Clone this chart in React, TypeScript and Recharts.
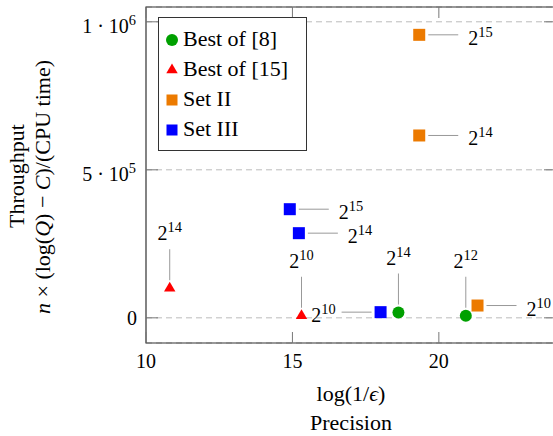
import { Legend, ReferenceArea, Scatter, ScatterChart, XAxis, YAxis, CartesianGrid } from "recharts";

// Throughput vs precision, four marker groups, each point tagged with its 2^k size

const best8X = [18.62, 20.92];
const best8Y = [18000, 7000];
const best8Exp = [14, 12];

const best15X = [10.81, 15.31];
const best15Y = [100000, 7000];
const best15Exp = [14, 10];

const set2X = [19.33, 19.33, 21.32];
const set2Y = [956000, 616000, 41600];
const set2Exp = [15, 14, 10];

const set3X = [14.91, 15.22, 18.01];
const set3Y = [367000, 286000, 19200];
const set3Exp = [15, 14, 10];

const xTicks = [10, 15, 20];
const yTicks = [0, 500000, 1000000];

// which side the pin + label sits on, per point
const best8Side = ["above", "above"];
const best15Side = ["above", "above"];
const set2Side = ["right", "right", "right"];
const set3Side = ["right", "right", "left"];

const CHART_W = 556;
const CHART_H = 436;
const Y_AXIS_W = 146;
const MARGIN = { top: 7, right: 0, bottom: 63, left: 0 };
const PLOT_TOP = MARGIN.top;
const PLOT_BOTTOM = CHART_H - MARGIN.bottom - 30;

const FONT = "Liberation Serif";
const GREEN = "#00a000";
const RED = "#ff0000";
const ORANGE = "#ec7a00";
const BLUE = "#0000ff";
const PIN = "#999";

type Side = "above" | "right" | "left";

function rows(xs: number[], ys: number[], exps: number[], sides: string[]) {
  return xs.map((x, i) => ({ x, y: ys[i], exp: exps[i], side: sides[i] as Side }));
}

function Pow({ x, y, base, exp, anchor, size = 20 }: { x: number; y: number; base: string; exp: number | string; anchor: "start" | "middle" | "end"; size?: number }) {
  return (
    <text x={x} y={y} textAnchor={anchor} fontFamily={FONT} fontSize={size} fill="#000">
      <tspan fontFamily={FONT}>{base}</tspan>
      <tspan fontFamily={FONT} dy={-8} fontSize={size * 0.72}>{exp}</tspan>
    </text>
  );
}

function Marker({ kind, cx, cy, color, r = 6 }: { kind: string; cx: number; cy: number; color: string; r?: number }) {
  if (kind === "circle") return <circle cx={cx} cy={cy} r={r} fill={color} />;
  if (kind === "triangle") {
    const h = r * 1.1;
    const hw = h * 0.866;
    return <polygon points={`${cx},${cy - h} ${cx + hw},${cy + h / 2} ${cx - hw},${cy + h / 2}`} fill={color} />;
  }
  return <rect x={cx - r} y={cy - r} width={r * 2} height={r * 2} fill={color} />;
}

function makeShape(kind: string, color: string) {
  return (props: any) => {
    const { cx, cy, payload } = props;
    const side: Side = payload.side;
    let pin = null;
    if (side === "above") {
      pin = (
        <g>
          <line x1={cx} y1={cy - 8} x2={cx} y2={cy - 39} stroke={PIN} strokeWidth={1} />
          <Pow x={cx} y={cy - 48} base="2" exp={payload.exp} anchor="middle" />
        </g>
      );
    } else if (side === "right") {
      pin = (
        <g>
          <line x1={cx + 9} y1={cy} x2={cx + 39} y2={cy} stroke={PIN} strokeWidth={1} />
          <Pow x={cx + 49} y={cy + 10} base="2" exp={payload.exp} anchor="start" />
        </g>
      );
    } else {
      pin = (
        <g>
          <line x1={cx - 9} y1={cy} x2={cx - 39} y2={cy} stroke={PIN} strokeWidth={1} />
          <Pow x={cx - 45} y={cy + 10} base="2" exp={payload.exp} anchor="end" />
        </g>
      );
    }
    return (
      <g>
        <Marker kind={kind} cx={cx} cy={cy} color={color} />
        {pin}
      </g>
    );
  };
}

function YTick(props: any) {
  const { y, payload } = props;
  const v: number = payload.value;
  let label;
  if (v === 0) {
    label = (
      <text x={137} y={y + 7} textAnchor="end" fontFamily={FONT} fontSize={20}>
        0
      </text>
    );
  } else {
    const e = Math.floor(Math.log10(v));
    const m = Math.round(v / Math.pow(10, e));
    label = <Pow x={136} y={y + 11} base={`${m} · 10`} exp={e} anchor="end" />;
  }
  return (
    <g>
      <line x1={Y_AXIS_W} x2={Y_AXIS_W + 12} y1={y} y2={y} stroke="#777" />
      <line x1={CHART_W - 12} x2={CHART_W} y1={y} y2={y} stroke="#777" />
      {label}
    </g>
  );
}

function XTick(props: any) {
  const { x, payload } = props;
  return (
    <g>
      <line x1={x} x2={x} y1={PLOT_BOTTOM} y2={PLOT_BOTTOM - 11} stroke="#777" />
      <line x1={x} x2={x} y1={PLOT_TOP} y2={PLOT_TOP + 11} stroke="#777" />
      <text x={x} y={368} textAnchor="middle" fontFamily={FONT} fontSize={20}>
        {payload.value}
      </text>
    </g>
  );
}

function XLabel(props: any) {
  const vb = props.viewBox;
  const cx = vb.x + vb.width / 2;
  return (
    <g>
      <text x={cx} y={PLOT_BOTTOM + 58} textAnchor="middle" fontFamily={FONT} fontSize={22}>
        log(1/<tspan fontFamily={FONT} fontStyle="italic">ϵ</tspan>)
      </text>
      <text x={cx} y={PLOT_BOTTOM + 87} textAnchor="middle" fontFamily={FONT} fontSize={22}>
        Precision
      </text>
    </g>
  );
}

function YLabel(props: any) {
  const vb = props.viewBox;
  const cy = vb.y + vb.height / 2;
  // the long line renders a bit high when anchored in the middle, nudge it down
  const cy2 = cy + 12;
  return (
    <g>
      <text x={24} y={cy + 1} transform={`rotate(-90, 24, ${cy + 1})`} textAnchor="middle" fontFamily={FONT} fontSize={22}>
        Throughput
      </text>
      <text x={50} y={cy2} transform={`rotate(-90, 50, ${cy2})`} textAnchor="middle" fontFamily={FONT} fontSize={22}>
        <tspan fontFamily={FONT} fontStyle="italic">n</tspan> × (log(<tspan fontFamily={FONT} fontStyle="italic">Q</tspan>) − <tspan fontFamily={FONT} fontStyle="italic">C</tspan>)/(CPU time)
      </text>
    </g>
  );
}

const legendItems = [
  { name: "Best of [8]", kind: "circle", color: GREEN },
  { name: "Best of [15]", kind: "triangle", color: RED },
  { name: "Set II", kind: "square", color: ORANGE },
  { name: "Set III", kind: "square", color: BLUE },
];

function LegendBox() {
  return (
    <svg width={150} height={135} style={{ display: "block" }}>
      <rect x={0.5} y={0.5} width={148} height={133} fill="#fff" stroke="#333" />
      {legendItems.map((it, i) => (
        <g key={it.name}>
          <Marker kind={it.kind} cx={14} cy={23 + i * 30} color={it.color} r={it.kind === "square" ? 5.5 : 6} />
          <text x={25} y={29 + i * 30} fontFamily={FONT} fontSize={22}>
            {it.name}
          </text>
        </g>
      ))}
    </svg>
  );
}

export default function App() {
  return (
    <div style={{ position: "absolute", left: 0, top: 0, width: 553, height: 436, overflow: "hidden", background: "#fff" }}>
      <ScatterChart width={CHART_W} height={CHART_H} margin={MARGIN}>
        <CartesianGrid vertical={false} stroke="#bbb" strokeDasharray="6 4" />
        <XAxis
          type="number"
          dataKey="x"
          domain={[10, 24]}
          ticks={xTicks}
          allowDataOverflow
          height={30}
          axisLine={false}
          tickLine={false}
          tick={<XTick />}
          label={{ content: <XLabel /> }}
        />
        <YAxis
          type="number"
          dataKey="y"
          domain={[-85000, 1050000]}
          ticks={yTicks}
          allowDataOverflow
          width={Y_AXIS_W}
          axisLine={false}
          tickLine={false}
          tick={<YTick />}
          label={{ content: <YLabel /> }}
        />
        <ReferenceArea x1={10} x2={24} y1={-85000} y2={1050000} fill="none" stroke="#333" strokeWidth={1.2} />
        <Legend
          layout="vertical"
          align="center"
          verticalAlign="middle"
          wrapperStyle={{ left: 158, top: 17, width: 150, height: 135 }}
          content={() => <LegendBox />}
        />
        <Scatter name="Best of [8]" data={rows(best8X, best8Y, best8Exp, best8Side)} shape={makeShape("circle", GREEN)} isAnimationActive={false} />
        <Scatter name="Best of [15]" data={rows(best15X, best15Y, best15Exp, best15Side)} shape={makeShape("triangle", RED)} isAnimationActive={false} />
        <Scatter name="Set II" data={rows(set2X, set2Y, set2Exp, set2Side)} shape={makeShape("square", ORANGE)} isAnimationActive={false} />
        <Scatter name="Set III" data={rows(set3X, set3Y, set3Exp, set3Side)} shape={makeShape("square", BLUE)} isAnimationActive={false} />
      </ScatterChart>
    </div>
  );
}
